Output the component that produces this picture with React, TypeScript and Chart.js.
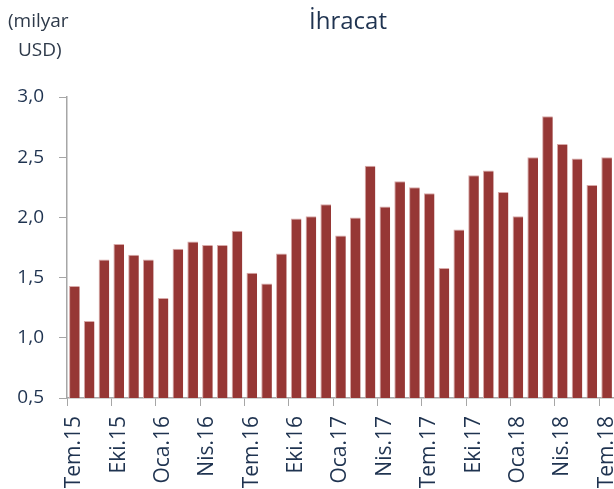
import React, { useEffect, useRef } from "react";
import { Chart, registerables } from "chart.js";

Chart.register(...registerables);

const categories = [
  "Tem.15", "Ağu.15", "Eyl.15", "Eki.15", "Kas.15", "Ara.15",
  "Oca.16", "Şub.16", "Mar.16", "Nis.16", "May.16", "Haz.16",
  "Tem.16", "Ağu.16", "Eyl.16", "Eki.16", "Kas.16", "Ara.16",
  "Oca.17", "Şub.17", "Mar.17", "Nis.17", "May.17", "Haz.17",
  "Tem.17", "Ağu.17", "Eyl.17", "Eki.17", "Kas.17", "Ara.17",
  "Oca.18", "Şub.18", "Mar.18", "Nis.18", "May.18", "Haz.18",
  "Tem.18",
];

const exportValues = [
  1.43, 1.14, 1.65, 1.78, 1.69, 1.65,
  1.33, 1.74, 1.80, 1.77, 1.77, 1.89,
  1.54, 1.45, 1.70, 1.99, 2.01, 2.11,
  1.85, 2.00, 2.43, 2.09, 2.30, 2.25,
  2.20, 1.58, 1.90, 2.35, 2.39, 2.21,
  2.01, 2.50, 2.84, 2.61, 2.49, 2.27,
  2.50,
];

const yTicks = [0.5, 1.0, 1.5, 2.0, 2.5, 3.0];
const titleText = "İhracat";
const unitLines = ["(milyar", "USD)"];

const NAVY = "#1f3350";
const FONT = "'Open Sans', sans-serif";

export default function App() {
  const ref = useRef<HTMLCanvasElement | null>(null);

  useEffect(() => {
    if (!ref.current) return;
    const overlay = {
      id: "overlay",
      afterDraw(chart: any) {
        const ctx = chart.ctx;
        ctx.save();
        ctx.fillStyle = NAVY;
        ctx.font = `24px ${FONT}`;
        ctx.textAlign = "center";
        ctx.textBaseline = "middle";
        ctx.fillText(titleText, 348, 22);
        ctx.font = `19px ${FONT}`;
        ctx.fillStyle = "#2e3a4a";
        ctx.textAlign = "left";
        ctx.fillText(unitLines[0], 8, 22);
        ctx.fillText(unitLines[1], 18, 51);
        ctx.restore();
      },
    };
    const chart = new Chart(ref.current, {
      type: "bar",
      data: {
        labels: categories,
        datasets: [
          {
            data: exportValues,
            backgroundColor: "#963735",
            borderColor: "#d8a9a8",
            borderWidth: { top: 1, left: 1, right: 0, bottom: 0 } as any,
            borderSkipped: "bottom",
            barPercentage: 0.72,
            categoryPercentage: 1,
          },
        ],
      },
      options: {
        animation: false,
        responsive: false,
        maintainAspectRatio: false,
        layout: { padding: { top: 97, right: 0, left: 0, bottom: 0 } },
        plugins: {
          legend: { display: false },
          title: { display: false },
          tooltip: { enabled: false },
        },
        scales: {
          x: {
            offset: true,
            grid: {
              offset: true,
              drawOnChartArea: false,
              drawTicks: true,
              tickLength: 8,
              tickColor: (c: any) => (c.index % 3 === 0 && c.index < categories.length ? "#a6a6a6" : "rgba(0,0,0,0)"),
              color: "#a6a6a6",
            },
            border: { color: "#a6a6a6", width: 1.5 },
            ticks: {
              autoSkip: false,
              maxRotation: 90,
              minRotation: 90,
              padding: 10,
              color: NAVY,
              font: { family: FONT, size: 21 },
              callback: (_v: any, i: number) => (i % 3 === 0 ? categories[i] : ""),
            },
            afterFit: (s: any) => {
              s.height = 91;
              s.paddingRight = 0;
              s.paddingLeft = 0;
            },
          },
          y: {
            min: 0.5,
            max: 3.0,
            afterBuildTicks: (s: any) => {
              s.ticks = yTicks.map((v) => ({ value: v }));
            },
            grid: {
              drawOnChartArea: false,
              tickLength: 8,
              tickColor: "#a6a6a6",
            },
            border: { color: "#a6a6a6", width: 1.5 },
            ticks: {
              padding: 15,
              color: NAVY,
              font: { family: FONT, size: 19 },
              callback: (v: any) => Number(v).toFixed(1).replace(".", ","),
            },
            afterFit: (s: any) => {
              s.width = 67;
            },
          },
        },
      },
      plugins: [overlay],
    });
    return () => chart.destroy();
  }, []);

  return (
    <div style={{ position: "fixed", left: 0, top: 0, width: 614, height: 489, background: "#fff", overflow: "hidden" }}>
      <canvas ref={ref} width={614} height={489} style={{ width: 614, height: 489 }} />
    </div>
  );
}
